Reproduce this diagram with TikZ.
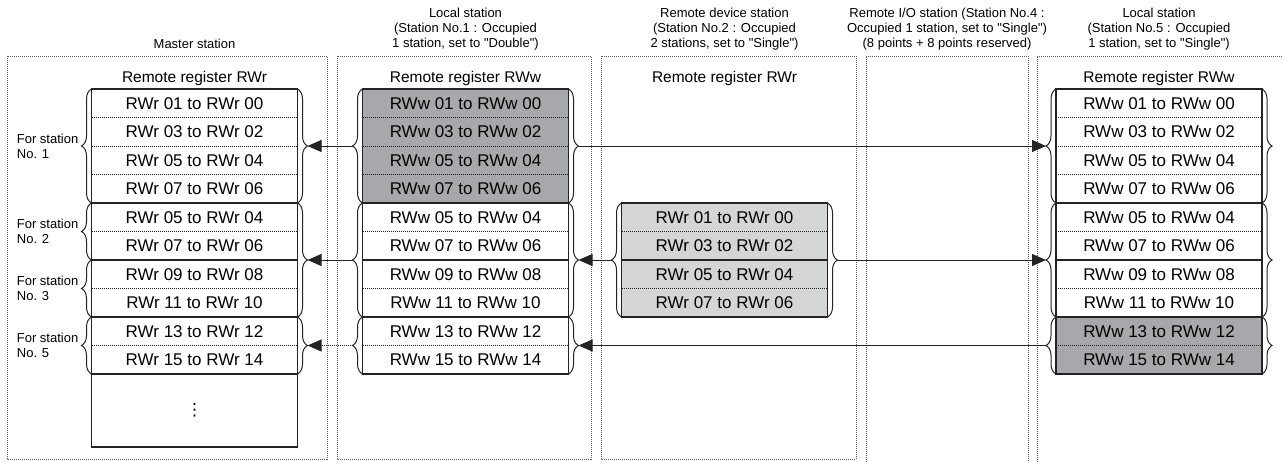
\documentclass[tikz,border=0pt]{standalone}
\usepackage{fontspec}
\newfontfamily\figfont{Liberation Sans}
\newfontfamily\symfont{DejaVu Sans}
\usepackage{tikz}
\usetikzlibrary{arrows.meta,calc,decorations.pathreplacing}
\definecolor{regline}{RGB}{35,35,35}
\definecolor{regdark}{RGB}{167,168,171}
\definecolor{reglight}{RGB}{212,213,215}
\definecolor{pnlline}{RGB}{95,95,95}
\tikzset{
  regrow/.style ={minimum width=206pt, minimum height=28.5pt, inner sep=0pt, outer sep=0pt,
                  font=\figfont\fontsize{17}{19}\selectfont},
  tbl/.style    ={draw=regline, line width=1.1pt},
  rowsep/.style ={draw=regline, line width=0.6pt, dash pattern=on 1pt off 1pt},
  pnl/.style    ={draw=pnlline, line width=0.7pt, dash pattern=on 1pt off 1pt},
  brc/.style    ={draw=regline, line width=1pt, decorate, decoration={brace,amplitude=10pt}},
  ptr/.style    ={draw=regline, line width=1pt, -{Triangle[length=14pt,width=12pt]}},
  ptrd/.style   ={ptr, dash pattern=on 1pt off 1pt},
  ttl/.style    ={font=\figfont\fontsize{13}{15}\selectfont, align=center, inner sep=0pt},
  hdr/.style    ={font=\figfont\fontsize{15.5}{17}\selectfont, inner sep=0pt},
  lbl/.style    ={font=\figfont\fontsize{13}{15}\selectfont, align=left, inner sep=3pt, anchor=east},
}
\begin{document}
\begin{tikzpicture}[x=1pt,y=-1pt]
  \useasboundingbox (0,0) rectangle (1283,461);
  \clip (0,0) rectangle (1283,461);
  \draw[pnl] (7,56) rectangle (327,459);
  \draw[pnl] (337,56) rectangle (591,459);
  \draw[pnl] (601,56) rectangle (856,459);
  \draw[pnl] (866,470) -- (866,56) -- (1028,56) -- (1028,470);
  \draw[pnl] (1037,470) -- (1037,56) -- (1290,56);
  \node[ttl] (hm) at (194.5,44) {Master station};
  \node[ttl] (hl1) at (465.5,29.5) {Local station\\(Station No.1 : Occupied\\1 station, set to "Double")};
  \node[ttl] (hd) at (724.5,29.5) {Remote device station\\(Station No.2 : Occupied\\2 stations, set to "Single")};
  \node[ttl] (hi) at (947,29.5) {Remote I/O station (Station No.4 :\\Occupied 1 station, set to "Single")\\(8 points + 8 points reserved)};
  \node[ttl] (hl5) at (1159,29.5) {Local station\\(Station No.5 : Occupied\\1 station, set to "Single")};
  \node[hdr] (rm) at (194.5,78) {Remote register RWr};
  \node[hdr] (rl1) at (465.5,78) {Remote register RWw};
  \node[hdr] (rd) at (724.5,78) {Remote register RWr};
  \node[hdr] (rl5) at (1159,78) {Remote register RWw};
  % master station
  \node[regrow] (mr1) at (194.5,103.25) {RWr 01 to RWr 00};
  \node[regrow] (mr2) at (194.5,131.75) {RWr 03 to RWr 02};
  \node[regrow] (mr3) at (194.5,160.25) {RWr 05 to RWr 04};
  \node[regrow] (mr4) at (194.5,188.75) {RWr 07 to RWr 06};
  \node[regrow] (mr5) at (194.5,217.25) {RWr 05 to RWr 04};
  \node[regrow] (mr6) at (194.5,245.75) {RWr 07 to RWr 06};
  \node[regrow] (mr7) at (194.5,274.25) {RWr 09 to RWr 08};
  \node[regrow] (mr8) at (194.5,302.75) {RWr 11 to RWr 10};
  \node[regrow] (mr9) at (194.5,331.25) {RWr 13 to RWr 12};
  \node[regrow] (mr10) at (194.5,359.75) {RWr 15 to RWr 14};
  \node[regrow,tbl,minimum height=73pt,font=\symfont\fontsize{17}{19}\selectfont] (mrx) at (194.5,410.5) {⋮};
  \draw[rowsep] (mr1.south west) -- (mr1.south east);
  \draw[rowsep] (mr2.south west) -- (mr2.south east);
  \draw[rowsep] (mr3.south west) -- (mr3.south east);
  \draw[rowsep] (mr5.south west) -- (mr5.south east);
  \draw[rowsep] (mr7.south west) -- (mr7.south east);
  \draw[rowsep] (mr9.south west) -- (mr9.south east);
  \draw[tbl] (mr1.north west) rectangle (mr4.south east);
  \draw[tbl] (mr5.north west) rectangle (mr6.south east);
  \draw[tbl] (mr7.north west) rectangle (mr8.south east);
  \draw[tbl] (mr9.north west) rectangle (mr10.south east);
  % local station No.1
  \node[regrow,fill=regdark] (lw1) at (465.5,103.25) {RWw 01 to RWw 00};
  \node[regrow,fill=regdark] (lw2) at (465.5,131.75) {RWw 03 to RWw 02};
  \node[regrow,fill=regdark] (lw3) at (465.5,160.25) {RWw 05 to RWw 04};
  \node[regrow,fill=regdark] (lw4) at (465.5,188.75) {RWw 07 to RWw 06};
  \node[regrow] (lw5) at (465.5,217.25) {RWw 05 to RWw 04};
  \node[regrow] (lw6) at (465.5,245.75) {RWw 07 to RWw 06};
  \node[regrow] (lw7) at (465.5,274.25) {RWw 09 to RWw 08};
  \node[regrow] (lw8) at (465.5,302.75) {RWw 11 to RWw 10};
  \node[regrow] (lw9) at (465.5,331.25) {RWw 13 to RWw 12};
  \node[regrow] (lw10) at (465.5,359.75) {RWw 15 to RWw 14};
  \draw[rowsep] (lw1.south west) -- (lw1.south east);
  \draw[rowsep] (lw2.south west) -- (lw2.south east);
  \draw[rowsep] (lw3.south west) -- (lw3.south east);
  \draw[rowsep] (lw5.south west) -- (lw5.south east);
  \draw[rowsep] (lw7.south west) -- (lw7.south east);
  \draw[rowsep] (lw9.south west) -- (lw9.south east);
  \draw[tbl] (lw1.north west) rectangle (lw4.south east);
  \draw[tbl] (lw5.north west) rectangle (lw6.south east);
  \draw[tbl] (lw7.north west) rectangle (lw8.south east);
  \draw[tbl] (lw9.north west) rectangle (lw10.south east);
  % remote device station
  \node[regrow,fill=reglight] (dr1) at (724.5,217.25) {RWr 01 to RWr 00};
  \node[regrow,fill=reglight] (dr2) at (724.5,245.75) {RWr 03 to RWr 02};
  \node[regrow,fill=reglight] (dr3) at (724.5,274.25) {RWr 05 to RWr 04};
  \node[regrow,fill=reglight] (dr4) at (724.5,302.75) {RWr 07 to RWr 06};
  \draw[rowsep] (dr1.south west) -- (dr1.south east);
  \draw[rowsep] (dr3.south west) -- (dr3.south east);
  \draw[tbl] (dr1.north west) rectangle (dr2.south east);
  \draw[tbl] (dr3.north west) rectangle (dr4.south east);
  % local station No.5
  \node[regrow] (sw1) at (1159,103.25) {RWw 01 to RWw 00};
  \node[regrow] (sw2) at (1159,131.75) {RWw 03 to RWw 02};
  \node[regrow] (sw3) at (1159,160.25) {RWw 05 to RWw 04};
  \node[regrow] (sw4) at (1159,188.75) {RWw 07 to RWw 06};
  \node[regrow] (sw5) at (1159,217.25) {RWw 05 to RWw 04};
  \node[regrow] (sw6) at (1159,245.75) {RWw 07 to RWw 06};
  \node[regrow] (sw7) at (1159,274.25) {RWw 09 to RWw 08};
  \node[regrow] (sw8) at (1159,302.75) {RWw 11 to RWw 10};
  \node[regrow,fill=regdark] (sw9) at (1159,331.25) {RWw 13 to RWw 12};
  \node[regrow,fill=regdark] (sw10) at (1159,359.75) {RWw 15 to RWw 14};
  \draw[rowsep] (sw1.south west) -- (sw1.south east);
  \draw[rowsep] (sw2.south west) -- (sw2.south east);
  \draw[rowsep] (sw3.south west) -- (sw3.south east);
  \draw[rowsep] (sw5.south west) -- (sw5.south east);
  \draw[rowsep] (sw7.south west) -- (sw7.south east);
  \draw[rowsep] (sw9.south west) -- (sw9.south east);
  \draw[tbl] (sw1.north west) rectangle (sw4.south east);
  \draw[tbl] (sw5.north west) rectangle (sw6.south east);
  \draw[tbl] (sw7.north west) rectangle (sw8.south east);
  \draw[tbl] (sw9.north west) rectangle (sw10.south east);
  % braces
  \draw[brc] (mr4.south west) -- (mr1.north west);
  \draw[brc] (mr6.south west) -- (mr5.north west);
  \draw[brc] (mr8.south west) -- (mr7.north west);
  \draw[brc] (mr10.south west) -- (mr9.north west);
  \draw[brc] (mr1.north east) -- (mr4.south east);
  \draw[brc] (mr5.north east) -- (mr8.south east);
  \draw[brc] (mr9.north east) -- (mr10.south east);
  \draw[brc] (lw4.south west) -- (lw1.north west);
  \draw[brc] (lw8.south west) -- (lw5.north west);
  \draw[brc] (lw10.south west) -- (lw9.north west);
  \draw[brc] (lw1.north east) -- (lw4.south east);
  \draw[brc] (lw5.north east) -- (lw8.south east);
  \draw[brc] (lw9.north east) -- (lw10.south east);
  \draw[brc] (dr4.south west) -- (dr1.north west);
  \draw[brc] (dr1.north east) -- (dr4.south east);
  \draw[brc] (sw4.south west) -- (sw1.north west);
  \draw[brc] (sw8.south west) -- (sw5.north west);
  \draw[brc] (sw10.south west) -- (sw9.north west);
  \draw[brc] (sw1.north east) -- (sw4.south east);
  \draw[brc] (sw5.north east) -- (sw8.south east);
  \draw[brc] (sw9.north east) -- (sw10.south east);
  % brace tips
  \coordinate (mL1) at ($(mr1.north west)!.5!(mr4.south west)+(-10,0)$);
  \coordinate (mL2) at ($(mr5.north west)!.5!(mr6.south west)+(-10,0)$);
  \coordinate (mL3) at ($(mr7.north west)!.5!(mr8.south west)+(-10,0)$);
  \coordinate (mL4) at ($(mr9.north west)!.5!(mr10.south west)+(-10,0)$);
  \coordinate (mR1) at ($(mr1.north east)!.5!(mr4.south east)+(10,0)$);
  \coordinate (mR2) at ($(mr5.north east)!.5!(mr8.south east)+(10,0)$);
  \coordinate (mR3) at ($(mr9.north east)!.5!(mr10.south east)+(10,0)$);
  \coordinate (lL1) at ($(lw1.north west)!.5!(lw4.south west)+(-10,0)$);
  \coordinate (lL2) at ($(lw5.north west)!.5!(lw8.south west)+(-10,0)$);
  \coordinate (lL3) at ($(lw9.north west)!.5!(lw10.south west)+(-10,0)$);
  \coordinate (lR1) at ($(lw1.north east)!.5!(lw4.south east)+(10,0)$);
  \coordinate (lR2) at ($(lw5.north east)!.5!(lw8.south east)+(10,0)$);
  \coordinate (lR3) at ($(lw9.north east)!.5!(lw10.south east)+(10,0)$);
  \coordinate (dL1) at ($(dr1.north west)!.5!(dr4.south west)+(-10,0)$);
  \coordinate (dR1) at ($(dr1.north east)!.5!(dr4.south east)+(10,0)$);
  \coordinate (sL1) at ($(sw1.north west)!.5!(sw4.south west)+(-10,0)$);
  \coordinate (sL2) at ($(sw5.north west)!.5!(sw8.south west)+(-10,0)$);
  \coordinate (sL3) at ($(sw9.north west)!.5!(sw10.south west)+(-10,0)$);
  \node[lbl] (fs1) at (mL1) {For station\\No. 1};
  \node[lbl] (fs2) at (mL2) {For station\\No. 2};
  \node[lbl] (fs3) at (mL3) {For station\\No. 3};
  \node[lbl] (fs5) at (mL4) {For station\\No. 5};
  % transfers
  \draw[ptr] (lL1) -- (mR1);
  \draw[ptr] (lL2) -- (mR2);
  \draw[ptrd] (lL3) -- (mR3);
  \draw[ptr] (dL1) -- (lR2);
  \draw[ptr] (lR1) -- (sL1);
  \draw[ptr] (dR1) -- (sL2);
  \draw[ptr] (sL3) -- (lR3);
\end{tikzpicture}
\end{document}
